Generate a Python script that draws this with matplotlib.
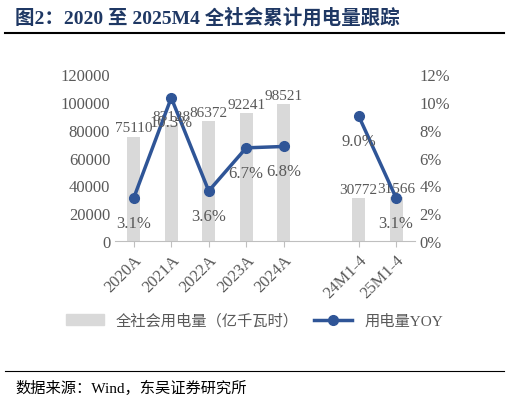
import numpy as np
import matplotlib.pyplot as plt
from matplotlib.lines import Line2D

plt.rcParams['font.family'] = ['Liberation Serif', 'Noto Sans CJK SC']

categories = ['2020A', '2021A', '2022A', '2023A', '2024A', '24M1-4', '25M1-4']
positions = [0, 1, 2, 3, 4, 6, 7]
usage = [75110, 83128, 86372, 92241, 98521, 30772, 31566]
yoy = [3.1, 10.3, 3.6, 6.7, 6.8, 9.0, 3.1]

gray = '#595959'
navy = '#2f5597'

fig = plt.figure(figsize=(5.09, 4.02), dpi=100)
ax = fig.add_axes([0.226, 0.398, 0.589, 0.415])
ax2 = ax.twinx()

ax.bar(positions, usage, width=0.35, color='#d9d9d9', zorder=1)
for x, v in zip(positions, usage):
    ax.text(x, v + 1500, str(v), ha='center', va='bottom', fontsize=11, color=gray)

ax2.plot(positions[:5], yoy[:5], color=navy, lw=2.5, marker='o', ms=7, zorder=3)
ax2.plot(positions[5:], yoy[5:], color=navy, lw=2.5, marker='o', ms=7, zorder=3)
for x, v in zip(positions, yoy):
    ax2.annotate(f'{v:.1f}%', (x, v), xytext=(0, -12), textcoords='offset points',
                 ha='center', va='top', fontsize=12, color=gray, zorder=4)

ax.set_xlim(-0.5, 7.5)
ax.set_ylim(0, 120000)
ax.set_yticks(np.arange(0, 120001, 20000))
ax2.set_ylim(0, 12)
ax2.set_yticks(np.arange(0, 13, 2))
ax2.set_yticklabels([f'{t}%' for t in range(0, 13, 2)])
ax.set_xticks(positions)
ax.set_xticklabels(categories, rotation=45, ha='right', rotation_mode='anchor')

for a in (ax, ax2):
    for s in a.spines.values():
        s.set_visible(False)
    a.tick_params(colors=gray, labelsize=12, length=0)
ax.spines['bottom'].set_visible(True)
ax.spines['bottom'].set_color('#bfbfbf')
ax.tick_params(axis='x', length=4, color='#bfbfbf')

handles = [plt.Rectangle((0, 0), 1, 1, color='#d9d9d9'),
           Line2D([], [], color=navy, lw=2.5, marker='o', ms=7)]
fig.legend(handles, ['全社会用电量（亿千瓦时）', '用电量YOY'], loc='center',
           bbox_to_anchor=(0.5, 0.2), ncol=2, frameon=False, fontsize=11,
           labelcolor=gray, handlelength=2.5, columnspacing=1.0)

fig.text(0.03, 0.955, '图2：2020 至 2025M4 全社会累计用电量跟踪', fontsize=14,
         fontweight='bold', color='#1f3864', va='center')
fig.add_artist(Line2D([0.01, 0.99], [0.915, 0.915], color='black', lw=1.5))
fig.add_artist(Line2D([0.01, 0.99], [0.075, 0.075], color='black', lw=0.8))
fig.text(0.03, 0.035, '数据来源：Wind，东吴证券研究所', fontsize=11, color='black', va='center')

fig.savefig('out.png', dpi=100)
